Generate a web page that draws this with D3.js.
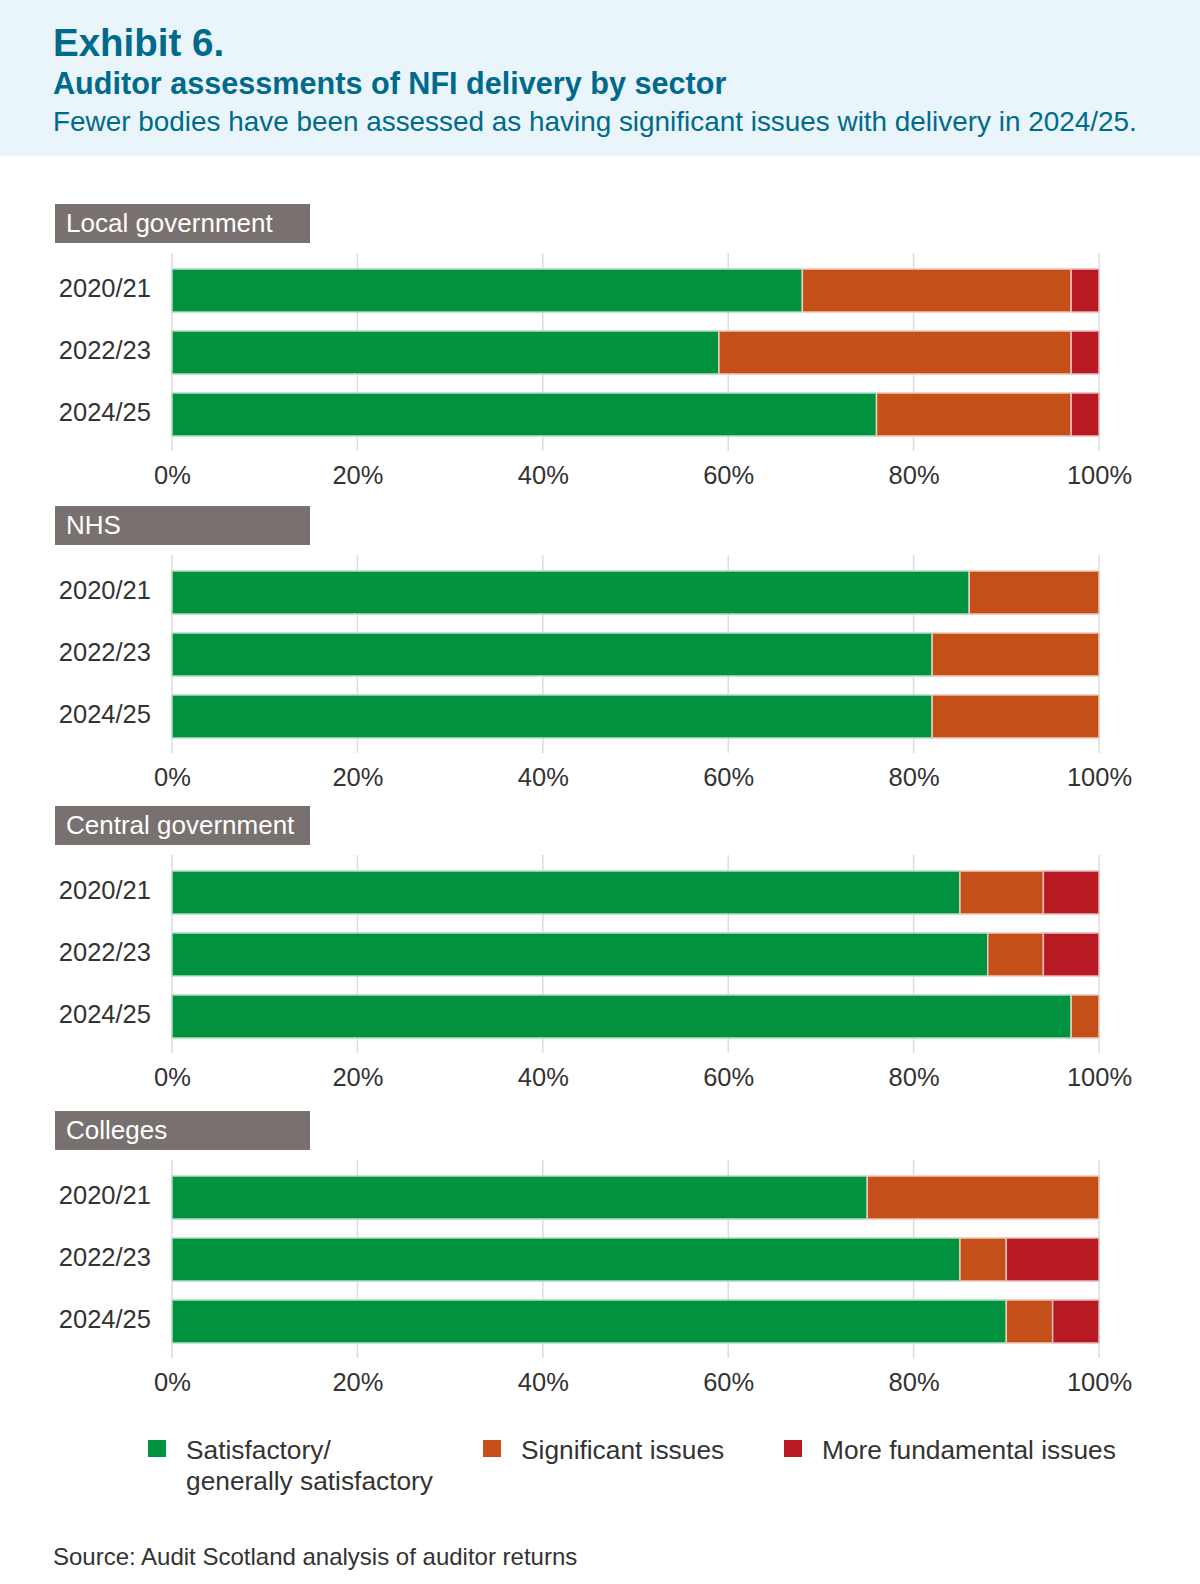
<!DOCTYPE html>
<html>
<head>
<meta charset="utf-8">
<script src="https://cdn.jsdelivr.net/npm/d3@7"></script>
<style>
    body { margin: 0; background: #fff; }
    text { font-family: "Liberation Sans", Arial, sans-serif; }
</style>
</head>
<body>
<svg id="paper"></svg>
<script>
// chart data
let sectors = ["Local government", "NHS", "Central government", "Colleges"];
let years = ["2020/21", "2022/23", "2024/25"];
let categories = ["Satisfactory/ generally satisfactory", "Significant issues", "More fundamental issues"];
let satisfactory = [[68, 59, 76], [86, 82, 82], [85, 88, 97], [75, 85, 90]];
let significant = [[29, 38, 21], [14, 18, 18], [9, 6, 3], [25, 5, 5]];
let fundamental = [[3, 3, 3], [0, 0, 0], [6, 6, 0], [0, 10, 5]];
let xTicks = [0, 20, 40, 60, 80, 100];

let colors = ["#00923f", "#c54f19", "#b81a24"];
let keys = ["sat", "sig", "fun"];
let width = 1200, height = 1584;

let svg = d3.select("#paper")
    .attr("width", width)
    .attr("height", height);

// header band
svg.append("rect")
    .attr("x", 0).attr("y", 0)
    .attr("width", width).attr("height", 156)
    .attr("fill", "#e9f5fa");
svg.append("text")
    .attr("x", 53).attr("y", 56)
    .attr("font-size", 38.5).attr("font-weight", "bold")
    .attr("fill", "#006a8c")
    .text("Exhibit 6.");
svg.append("text")
    .attr("x", 53).attr("y", 94)
    .attr("font-size", 30.6).attr("font-weight", "bold")
    .attr("fill", "#006a8c")
    .text("Auditor assessments of NFI delivery by sector");
svg.append("text")
    .attr("x", 53).attr("y", 131)
    .attr("font-size", 27.9)
    .attr("fill", "#006a8c")
    .text("Fewer bodies have been assessed as having significant issues with delivery in 2024/25.");

let x = d3.scaleLinear().domain([0, 100]).range([172, 1099]);
let color = d3.scaleOrdinal().domain(keys).range(colors);
let stack = d3.stack().keys(keys);

// top of each panel (label box)
let panelTop = [204, 506, 806, 1111];

sectors.forEach((sector, i) => {
    let T = panelTop[i];
    let g = svg.append("g").attr("class", "panel");

    // sector label box
    g.append("rect")
        .attr("x", 55).attr("y", T)
        .attr("width", 255).attr("height", 39)
        .attr("fill", "#797170");
    g.append("text")
        .attr("x", 66).attr("y", T + 28)
        .attr("font-size", 26)
        .attr("fill", "#fff")
        .text(sector);

    let y = d3.scaleBand()
        .domain(years)
        .range([T + 65, T + 232])
        .paddingInner(0.306)
        .paddingOuter(0);

    // gridlines
    g.selectAll(".grid")
        .data(xTicks)
        .enter()
        .append("line")
        .attr("x1", d => x(d)).attr("x2", d => x(d))
        .attr("y1", T + 49).attr("y2", T + 247)
        .attr("stroke", "#dcdcdc")
        .attr("stroke-width", 1.5);

    let rows = years.map((yr, j) => ({
        year: yr,
        sat: satisfactory[i][j],
        sig: significant[i][j],
        fun: fundamental[i][j]
    }));
    let series = stack(rows);

    g.selectAll(".series")
        .data(series)
        .enter()
        .append("g")
        .attr("fill", d => color(d.key))
        .attr("stroke", d => d3.interpolateRgb(color(d.key), "#fff")(0.7))
        .selectAll("rect")
        .data(d => d.filter(v => v[1] - v[0] > 0))
        .enter()
        .append("rect")
        .attr("x", d => x(d[0]))
        .attr("y", d => y(d.data.year))
        .attr("width", d => x(d[1]) - x(d[0]))
        .attr("height", y.bandwidth())
        .attr("stroke-width", 1.5);

    // year labels
    g.selectAll(".year")
        .data(years)
        .enter()
        .append("text")
        .attr("x", 151)
        .attr("y", d => y(d) + y.bandwidth() / 2)
        .attr("dy", "0.26em")
        .attr("text-anchor", "end")
        .attr("font-size", 25.5)
        .attr("fill", "#333")
        .text(d => d);

    // x axis
    let axis = g.append("g")
        .attr("transform", "translate(0," + (T + 255) + ")")
        .call(d3.axisBottom(x).tickValues(xTicks).tickSize(0).tickFormat(d => d + "%"));
    axis.select(".domain").remove();
    axis.selectAll("text")
        .attr("font-family", "Liberation Sans, Arial, sans-serif")
        .attr("font-size", 25.5)
        .attr("fill", "#333")
        .attr("dy", 0)
        .attr("y", 25);
});

// legend
let legendX = [148, 483, 784];
let legend = svg.append("g");
let items = legend.selectAll(".item")
    .data(categories)
    .enter()
    .append("g")
    .attr("transform", (d, i) => "translate(" + legendX[i] + ",1440)");
items.append("rect")
    .attr("width", 18).attr("height", 17)
    .attr("fill", (d, i) => colors[i]);
items.each(function (d, i) {
    let t = d3.select(this).append("text")
        .attr("x", 38).attr("y", 19)
        .attr("font-size", 26.3)
        .attr("fill", "#333");
    if (i === 0) {
        t.append("tspan").attr("x", 38).text("Satisfactory/");
        t.append("tspan").attr("x", 38).attr("dy", 31).text("generally satisfactory");
    } else {
        t.text(d);
    }
});

svg.append("text")
    .attr("x", 53).attr("y", 1565)
    .attr("font-size", 24)
    .attr("fill", "#333")
    .text("Source: Audit Scotland analysis of auditor returns");
</script>
</body>
</html>
